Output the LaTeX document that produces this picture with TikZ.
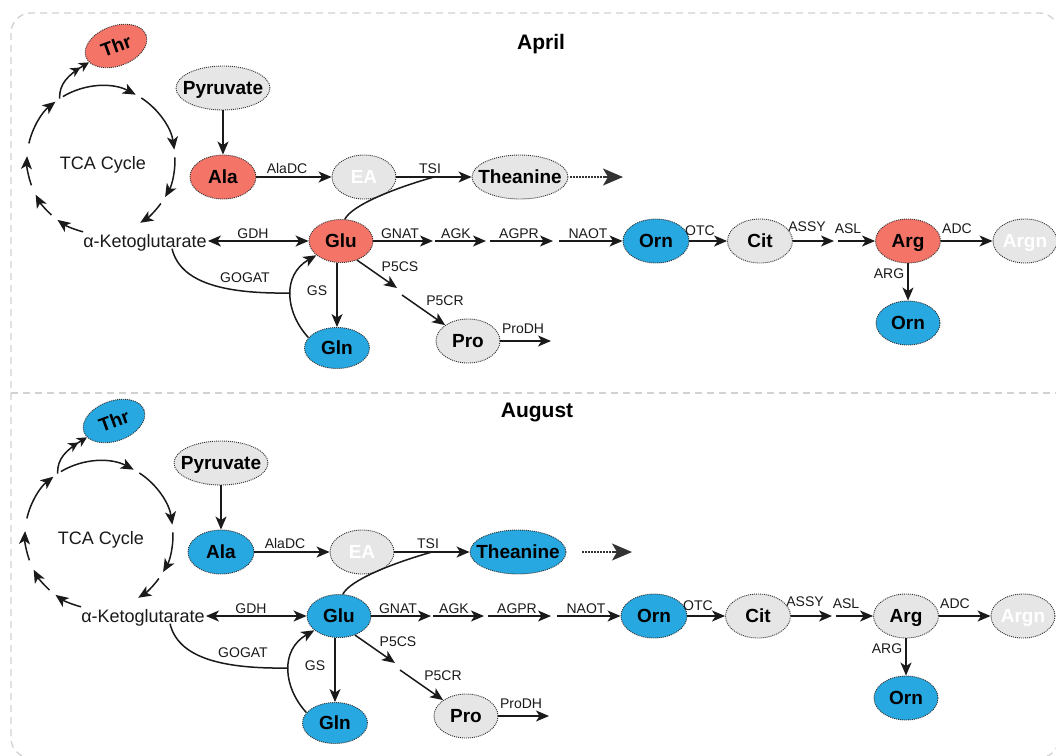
\documentclass[tikz,border=0pt]{standalone}
\usepackage{fontspec}
\setmainfont{Liberation Sans}
\usetikzlibrary{arrows.meta,shapes.geometric}
\definecolor{nred}{HTML}{F47468}
\definecolor{nblue}{HTML}{27A8E0}
\definecolor{ngrey}{HTML}{E6E6E6}
\definecolor{nbord}{HTML}{333333}
\definecolor{frm}{HTML}{D2D2D2}
\definecolor{ink}{HTML}{1A1A1A}
\tikzset{
  ell/.style={ellipse, draw=nbord, dash pattern=on 1pt off 1pt, line width=0.9pt,
    inner sep=0pt, minimum width=64pt, minimum height=44pt},
  nt/.style={font=\fontsize{19}{19}\selectfont\bfseries, text height=13.6pt, text depth=0pt, inner sep=0pt},
  wt/.style={nt, text=white},
  lab/.style={font=\fontsize{14}{14}\selectfont, text=ink, text height=10pt, text depth=0pt, inner sep=0pt},
  big/.style={font=\fontsize{18}{18}\selectfont, text=ink, text height=12.9pt, text depth=0pt, inner sep=1pt},
  ttl/.style={font=\fontsize{21}{21}\selectfont\bfseries, text height=15pt, text depth=0pt, inner sep=0pt},
  ln/.style={line width=1.5pt, ink},
  arr/.style={ln, -{Stealth[length=13pt,width=11pt,inset=3.5pt]}},
  darr/.style={ln, {Stealth[length=13pt,width=11pt,inset=3.5pt]}-{Stealth[length=13pt,width=11pt,inset=3.5pt]}},
  thrarr/.style={ln, -{Stealth[length=10pt,width=10pt,inset=3pt]Stealth[length=10pt,width=10pt,inset=3pt]}},
  dotln/.style={line width=1.5pt, nbord, dash pattern=on 1.5pt off 1.5pt},
  bighead/.style={line width=1.5pt, nbord, -{Stealth[length=20pt,width=17pt,inset=5pt]}},
}
\newcommand\drawpathway{%
  \begin{scope}[shift={(101,160)}]
    \draw[arr] (121:74pt) arc[start angle=121,end angle=62,radius=74pt];
    \draw[arr] (57:74pt) arc[start angle=57,end angle=8,radius=74pt];
    \draw[arr] (2:74pt) arc[start angle=2,end angle=-30,radius=74pt];
    \draw[arr] (-36:74pt) arc[start angle=-36,end angle=-58,radius=74pt];
    \draw[arr] (-104:74pt) arc[start angle=-104,end angle=-126,radius=74pt];
    \draw[arr] (-132:74pt) arc[start angle=-132,end angle=-152,radius=74pt];
    \draw[arr] (-160:74pt) arc[start angle=-160,end angle=-183,radius=74pt];
    \draw[arr] (167:74pt) arc[start angle=167,end angle=128,radius=74pt];
    \coordinate (tcaj) at (124:74pt);
  \end{scope}
  \node[big] (tca) at (103,163) {TCA Cycle};
  \node[big] (akg) at (145,241) {α-Ketoglutarate};
  \node[ell, thrf, minimum width=64pt, minimum height=40pt, rotate=20,
    label={[nt, rotate=20]center:Thr}] (thr) at (116,46) {};
  \node[ell, fill=ngrey, minimum width=94pt, label={[nt]center:Pyruvate}] (pyr) at (223,88) {};
  \node[ell, alaf, minimum width=66pt, label={[nt]center:Ala}] (ala) at (223,177) {};
  \node[ell, fill=ngrey, label={[wt]center:EA}] (ea) at (364,177) {};
  \node[ell, theaf, minimum width=96pt, label={[nt]center:Theanine}] (thea) at (520,177) {};
  \node[ell, gluf, minimum height=43pt, label={[nt]center:Glu}] (glu) at (341,241) {};
  \node[ell, glnf, minimum width=65pt, minimum height=41pt, label={[nt]center:Gln}] (gln) at (337,348) {};
  \node[ell, fill=ngrey, label={[nt]center:Pro}] (pro) at (468,341) {};
  \node[ell, ornf, minimum width=66pt, label={[nt]center:Orn}] (orn) at (656,241) {};
  \node[ell, fill=ngrey, minimum width=65pt, label={[nt]center:Cit}] (cit) at (760,241) {};
  \node[ell, argf, minimum width=65pt, label={[nt]center:Arg}] (arg) at (908,241) {};
  \node[ell, fill=ngrey, label={[wt]center:Argn}] (argn) at (1025,241) {};
  \node[ell, ornf, label={[nt]center:Orn}] (orn2) at (908,323) {};
  \coordinate (tsim) at (434,177);
  \coordinate (thbeg) at (\thbx,177);
  \coordinate (thmid) at (\thex-20,177);
  \coordinate (thend) at (\thex,177);
  \coordinate (gogm) at (290,293);
  \coordinate (p5a) at (397,288);
  \coordinate (p5b) at (402,295);
  \coordinate (prodhe) at (551,341);
  \coordinate (gn1) at (433,241);
  \coordinate (gn2) at (435,241);
  \coordinate (gn3) at (486,241);
  \coordinate (gn4) at (490,241);
  \coordinate (gn5) at (553,241);
  \coordinate (gn6) at (559,241);
  \coordinate (as1) at (834,241);
  \coordinate (as2) at (838,241);
  % connectors
  \draw[thrarr] (tcaj) .. controls (59,84) and (68,75) .. (thr);
  \draw[arr] (pyr) -- (ala);
  \draw[arr] (ala) -- (ea);
  \draw[arr] (ea) -- (thea);
  \draw[ln] (glu.80) .. controls (352,205) and (395,188) .. (tsim);
  \draw[dotln] (thbeg) -- (thmid);
  \draw[bighead] (thmid) -- (thend);
  \draw[darr] (akg) -- (glu);
  \draw[ln] ([xshift=27pt]akg.south) .. controls (180,282) and (222,294) .. (gogm);
  \draw[arr] (gln.160) .. controls (285,312) and (282,275) .. (glu.210);
  \draw[arr] (glu.south -| gln.north) -- (gln.north);
  \draw[arr] (glu.-50) -- (p5a);
  \draw[arr] (p5b) -- (pro);
  \draw[arr] (pro) -- (prodhe);
  \draw[arr] (glu) -- (gn1);
  \draw[arr] (gn2) -- (gn3);
  \draw[arr] (gn4) -- (gn5);
  \draw[arr] (gn6) -- (orn);
  \draw[arr] (orn) -- (cit);
  \draw[arr] (cit) -- (as1);
  \draw[arr] (as2) -- (arg);
  \draw[arr] (arg) -- (argn);
  \draw[arr] (arg) -- (orn2);
  % labels
  \node[lab] (lala) at (287,168) {AlaDC};
  \node[lab] (ltsi) at (430,168) {TSI};
  \node[lab] (lgdh) at (253,233) {GDH};
  \node[lab] (lgog) at (245,277) {GOGAT};
  \node[lab] (lgs) at (317,290) {GS};
  \node[lab] (lgnat) at (400,233) {GNAT};
  \node[lab] (lagk) at (456,233) {AGK};
  \node[lab] (lagpr) at (519,233) {AGPR};
  \node[lab] (lnaot) at (588,233) {NAOT};
  \node[lab] (lp5cs) at (400,266) {P5CS};
  \node[lab] (lp5cr) at (445,300) {P5CR};
  \node[lab] (lprodh) at (523,328) {ProDH};
  \node[lab] (lotc) at (700,230) {OTC};
  \node[lab] (lassy) at (807,226) {ASSY};
  \node[lab] (lasl) at (848,228) {ASL};
  \node[lab] (ladc) at (957,228) {ADC};
  \node[lab] (larg) at (889,273) {ARG};
}
\begin{document}
\begin{tikzpicture}[x=1pt,y=-1pt]
\useasboundingbox (0,0) rectangle (1056,755);
\fill[white] (0,0) rectangle (1056,755);
\draw[frm, line width=1.3pt, dash pattern=on 7pt off 5pt, rounded corners=20pt] (11,13) rectangle (1059,758);
\draw[frm, line width=1.3pt, dash pattern=on 7pt off 5pt] (11,393) -- (1056,393);
\node[ttl] (tapr) at (541,42) {April};
\node[ttl] (taug) at (537,410) {August};
\def\thbx{570}\def\thex{623}
\begin{scope}[name prefix=a-,
  thrf/.style={fill=nred}, alaf/.style={fill=nred}, theaf/.style={fill=ngrey},
  gluf/.style={fill=nred}, glnf/.style={fill=nblue}, ornf/.style={fill=nblue}, argf/.style={fill=nred}]
\drawpathway
\end{scope}
\def\thbx{584}\def\thex{634}
\begin{scope}[shift={(-2,375)}, name prefix=b-,
  thrf/.style={fill=nblue}, alaf/.style={fill=nblue}, theaf/.style={fill=nblue},
  gluf/.style={fill=nblue}, glnf/.style={fill=nblue}, ornf/.style={fill=nblue}, argf/.style={fill=ngrey}]
\drawpathway
\end{scope}
\end{tikzpicture}
\end{document}
